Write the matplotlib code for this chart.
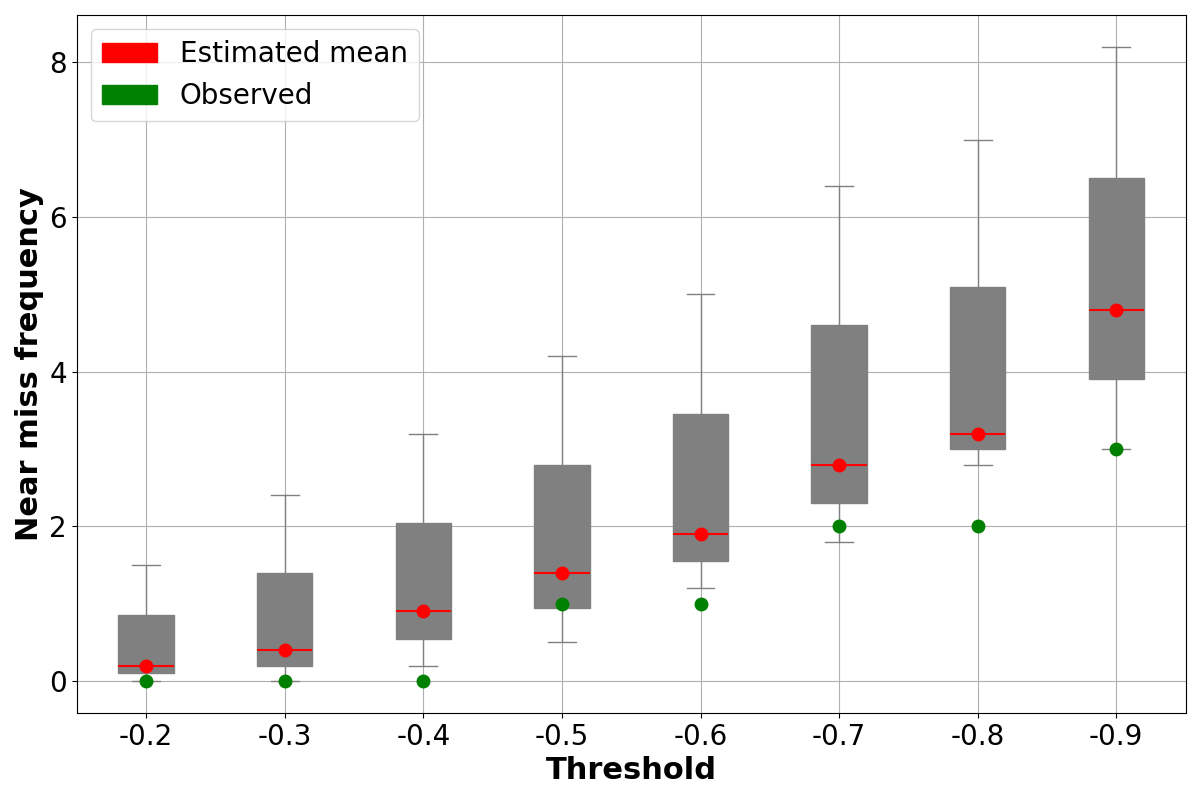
import matplotlib
matplotlib.use("Agg")
import matplotlib.pyplot as plt
from matplotlib.patches import Patch

thresholds = ["-0.2", "-0.3", "-0.4", "-0.5", "-0.6", "-0.7", "-0.8", "-0.9"]
whislo = [0.0, 0.0, 0.2, 0.5, 1.2, 1.8, 2.8, 3.0]
q1 = [0.1, 0.2, 0.55, 0.94, 1.55, 2.3, 3.0, 3.9]
med = [0.2, 0.4, 0.9, 1.4, 1.9, 2.8, 3.2, 4.8]
q3 = [0.85, 1.4, 2.05, 2.8, 3.45, 4.6, 5.1, 6.5]
whishi = [1.5, 2.4, 3.2, 4.2, 5.0, 6.4, 7.0, 8.2]
est_mean = [0.2, 0.4, 0.9, 1.4, 1.9, 2.8, 3.2, 4.8]
observed = [0, 0, 0, 1, 1, 2, 2, 3]

stats = []
for i in range(len(thresholds)):
    stats.append(dict(whislo=whislo[i], q1=q1[i], med=med[i], q3=q3[i],
                      whishi=whishi[i], fliers=[], label=thresholds[i]))

fig, ax = plt.subplots(figsize=(12, 8), dpi=100)
positions = list(range(1, len(thresholds) + 1))
ax.bxp(stats, positions=positions, widths=0.4, patch_artist=True,
       boxprops=dict(facecolor="gray", edgecolor="gray"),
       whiskerprops=dict(color="gray"),
       capprops=dict(color="gray"),
       medianprops=dict(color="red", linewidth=1.5))
ax.plot(positions, est_mean, "o", color="red", markersize=9, zorder=3)
ax.plot(positions, observed, "o", color="green", markersize=9, zorder=3)

ax.grid(True)
ax.set_xticks(positions)
ax.set_xticklabels(thresholds)
ax.tick_params(labelsize=20)
ax.set_xlabel("Threshold", fontsize=22, fontweight="bold")
ax.set_ylabel("Near miss frequency", fontsize=22, fontweight="bold")
ax.set_yticks([0, 2, 4, 6, 8])

handles = [Patch(color="red", label="Estimated mean"),
           Patch(color="green", label="Observed")]
ax.legend(handles=handles, loc="upper left", fontsize=20)

fig.subplots_adjust(left=0.064, right=0.988, top=0.981, bottom=0.109)
fig.savefig("out.png")
